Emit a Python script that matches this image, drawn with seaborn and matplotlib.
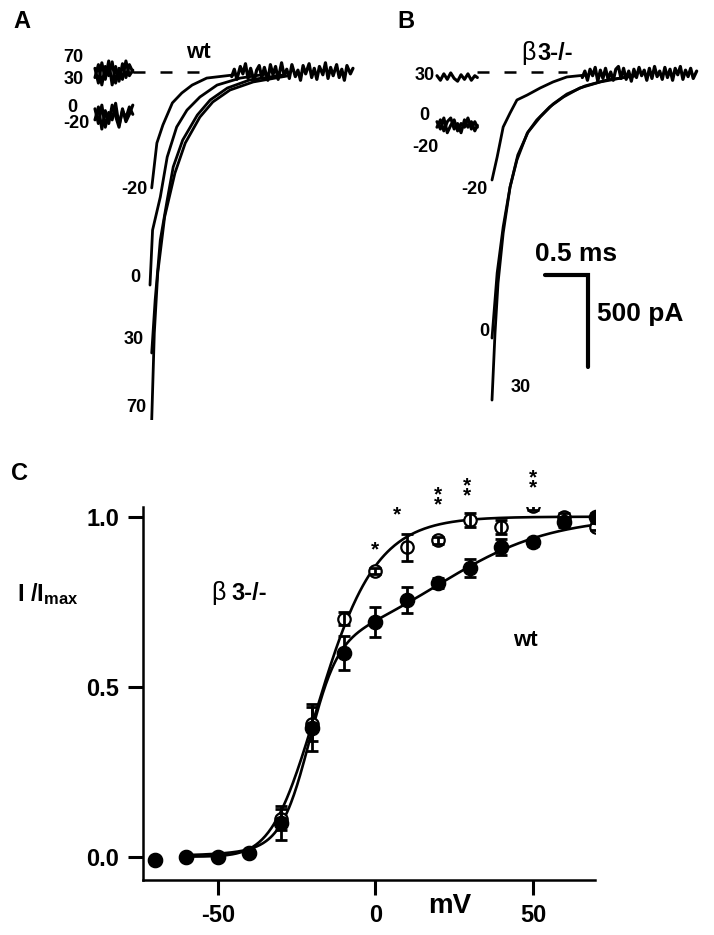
import numpy as np
import pandas as pd
import matplotlib
matplotlib.use("Agg")
import matplotlib.pyplot as plt
import seaborn as sns

# ================= DATA =================
# Panel C : normalised current vs test voltage
VOLT = [-70, -60, -50, -40, -30, -20, -10, 0, 10, 20, 30, 40, 50, 60, 70]
KO_MEAN = [-0.01, 0.00, 0.00, 0.01, 0.11, 0.39, 0.70, 0.84, 0.91, 0.93, 0.99, 0.97, 1.03, 1.00, 0.97]
KO_SEM = [0.005, 0.005, 0.005, 0.005, 0.03, 0.05, 0.02, 0.01, 0.04, 0.01, 0.02, 0.02, 0.01, 0.01, 0.01]
WT_MEAN = [-0.01, 0.00, 0.00, 0.01, 0.10, 0.38, 0.60, 0.69, 0.755, 0.805, 0.85, 0.91, 0.925, 0.985, 1.00]
WT_SEM = [0.005, 0.005, 0.005, 0.005, 0.05, 0.07, 0.05, 0.045, 0.037, 0.015, 0.026, 0.024, 0.01, 0.015, 0.01]

# fit parameters (Boltzmann^3 for beta3-/-, double Boltzmann for wt)
KO_VHALF, KO_SLOPE, KO_POWER = -30.4, 10.4, 3
WT_A1, WT_V1, WT_K1 = 0.6, -21.0, 4.5
WT_A2, WT_V2, WT_K2 = 0.4, 20.0, 18.0
FIT_RANGE = (-60, 70)

# significance stars (voltage, I/Imax of lowest star, number of stars)
STAR_V = [0, 7, 20, 29, 50]
STAR_Y = [0.923, 1.026, 1.055, 1.081, 1.105]
STAR_N = [1, 1, 2, 2, 2]

# Panels A/B : tail currents (time in ms from tail onset, current in pA)
A_M20_T = [0.02, 0.08, 0.15, 0.26, 0.37, 0.49, 0.66, 0.97]
A_M20_I = [-630, -386, -288, -168, -114, -71, -33, -16]
A_0_T = [0.00, 0.03, 0.12, 0.20, 0.31, 0.43, 0.58, 0.78, 1.05, 1.36]
A_0_I = [-1158, -859, -679, -462, -299, -207, -136, -71, -33, -11]
A_30_T = [0.02, 0.06, 0.12, 0.20, 0.27, 0.38, 0.55, 0.70, 0.90, 1.16, 1.55]
A_30_I = [-1527, -1239, -913, -696, -516, -370, -234, -152, -87, -43, -16]
A_70_T = [0.02, 0.05, 0.09, 0.17, 0.29, 0.41, 0.58, 0.73, 0.93, 1.20, 1.59]
A_70_I = [-1891, -1419, -1092, -788, -549, -386, -245, -163, -98, -54, -22]

B_M20_T = [0.00, 0.06, 0.13, 0.21, 0.29, 0.41, 0.56, 0.71, 0.87, 1.10]
B_M20_I = [-587, -462, -299, -223, -152, -125, -87, -54, -27, -16]
B_0_T = [0.00, 0.06, 0.13, 0.21, 0.29, 0.41, 0.52, 0.67, 0.83, 1.02, 1.26, 1.57]
B_0_I = [-1446, -1092, -842, -625, -478, -332, -261, -190, -136, -87, -54, -27]
B_30_T = [0.00, 0.035, 0.07, 0.13, 0.21, 0.30, 0.42, 0.56, 0.71, 0.87, 1.08, 1.34, 1.66]
B_30_I = [-1783, -1419, -1147, -875, -625, -451, -326, -245, -174, -120, -76, -43, -22]

# noisy steady baselines after the tails
BASE_A_T = [0.95, 0.98, 1.01, 1.05, 1.08, 1.11, 1.14, 1.17, 1.21, 1.24, 1.27, 1.30, 1.33, 1.37, 1.40,
            1.43, 1.46, 1.49, 1.53, 1.56, 1.59, 1.62, 1.65, 1.69, 1.72, 1.75, 1.78, 1.81, 1.85, 1.88,
            1.91, 1.94, 1.97, 2.01, 2.04, 2.07, 2.10, 2.13, 2.17, 2.20, 2.23, 2.26, 2.29, 2.33, 2.36]
BASE_A_I = [-25, 15, -40, 30, -10, 45, -35, 20, -50, 10, 35, -30, 25, -45, 40,
            -15, 30, -40, 50, -20, 15, -35, 40, -25, 10, -45, 35, -10, 45, -30,
            20, -40, 30, -15, 50, -35, 25, -20, 40, -30, 15, -45, 35, -10, 20]
BASE_B_T = [1.05, 1.08, 1.11, 1.14, 1.17, 1.20, 1.23, 1.26, 1.29, 1.32, 1.35, 1.38, 1.41, 1.44, 1.47,
            1.50, 1.53, 1.56, 1.59, 1.62, 1.65, 1.68, 1.71, 1.74, 1.77, 1.80, 1.83, 1.86, 1.89, 1.92,
            1.95, 1.98, 2.01, 2.04, 2.07, 2.10, 2.13, 2.16, 2.19, 2.22, 2.25, 2.28, 2.31, 2.34, 2.38]
BASE_B_I = [-30, 5, -45, 15, -20, 25, -50, 10, -35, 20, -40, 0, -45, 15, 30,
            -35, 20, -40, 5, -50, 15, -30, 25, -20, 10, -45, 20, -35, 30, -25,
            5, -40, 25, -30, 15, -45, 20, -15, 30, -40, 10, -25, 20, -35, 5]

# pre-pulse current snippets
SNIP_A_T = [-0.64, -0.60, -0.56, -0.52, -0.48, -0.44, -0.40, -0.36, -0.32, -0.28, -0.24, -0.20]
SNIP_A_70_I = [20, -60, 50, -40, 60, -70, 30, -50, 45, -30, 40, 0]
SNIP_A_30_I = [-30, 40, -70, 30, -20, 55, -60, 20, -40, 60, -20, 10]
SNIP_A_0_I = [-200, -280, -180, -300, -220, -260, -170, -290, -210, -250, -190, -230]
SNIP_A_M20_I = [-260, -190, -310, -210, -280, -180, -240, -300, -200, -270, -230, -180]
SNIP_B_T = [-0.64, -0.60, -0.56, -0.52, -0.48, -0.44, -0.40, -0.36, -0.32, -0.28, -0.24, -0.20, -0.17]
SNIP_B_30_I = [-20, -45, -10, -40, -5, -35, -50, -15, -40, -10, -45, -20, -30]
SNIP_B_0_I = [-300, -260, -320, -270, -250, -310, -280, -330, -260, -300, -270, -320, -290]
SNIP_B_M20_I = [-270, -310, -250, -330, -290, -260, -320, -280, -300, -250, -310, -270, -300]

SCALE_T_MS = 0.5
SCALE_I_PA = 500

# ================= STYLE =================
sns.set_theme(style="ticks")
plt.rcParams["font.family"] = ["Liberation Sans", "DejaVu Sans"]
plt.rcParams["font.weight"] = "bold"
plt.rcParams["axes.unicode_minus"] = False
plt.rcParams["mathtext.fontset"] = "custom"
plt.rcParams["mathtext.bf"] = "Liberation Sans:bold"
plt.rcParams["mathtext.rm"] = "Liberation Sans"
for key in ["text.color", "axes.labelcolor", "xtick.color", "ytick.color", "axes.edgecolor"]:
    plt.rcParams[key] = "black"

W, H = 714, 935
fig = plt.figure(figsize=(W / 100, H / 100), dpi=100)
fig.patch.set_facecolor("white")


def fx(px):
    return px / W


def fy(py):
    return 1 - py / H


def ftext(px, py, s, size, ha="center", va="center", weight="bold", **kw):
    fig.text(fx(px), fy(py), s, fontsize=size, ha=ha, va=va, fontweight=weight,
             color="black", **kw)


# ================= PANELS A / B =================
MS_PER_PX = 1 / 86
PA_PER_PX = 500 / 92
BASE_PY = 72
tr = fig.add_axes([0, fy(420), 1, 420 / H])
tr.set_xlim(0, W * MS_PER_PX)
tr.set_ylim(-(420 - BASE_PY) * PA_PER_PX, BASE_PY * PA_PER_PX)
tr.axis("off")

OFF_A = 150 * MS_PER_PX
OFF_B = 492 * MS_PER_PX


def trace(t, i, off, lw=2.0):
    df = pd.DataFrame({"t": np.asarray(t, float) + off, "i": i})
    sns.lineplot(data=df, x="t", y="i", ax=tr, color="black", lw=lw,
                 sort=False, estimator=None, legend=False)


for t, i in [(A_M20_T, A_M20_I), (A_0_T, A_0_I), (A_30_T, A_30_I), (A_70_T, A_70_I)]:
    trace(t, i, OFF_A)
trace(BASE_A_T, BASE_A_I, OFF_A, lw=2.3)
for i in [SNIP_A_70_I, SNIP_A_30_I, SNIP_A_0_I, SNIP_A_M20_I]:
    trace(SNIP_A_T, i, OFF_A, lw=2.2)

for t, i in [(B_M20_T, B_M20_I), (B_0_T, B_0_I), (B_30_T, B_30_I)]:
    trace(t, i, OFF_B)
trace(BASE_B_T, BASE_B_I, OFF_B, lw=2.3)
for i in [SNIP_B_30_I, SNIP_B_0_I, SNIP_B_M20_I]:
    trace(SNIP_B_T, i, OFF_B, lw=2.2)

# dashed zero lines
tr.plot([OFF_A - 0.20, OFF_A + 0.67], [0, 0], color="black", lw=1.8, dashes=(4.8, 6))
tr.plot([OFF_B - 0.17, OFF_B + 0.87], [0, 0], color="black", lw=1.8, dashes=(4.8, 6))

# scale bar (in panel B)
sb_t0 = OFF_B + 0.62
sb_i0 = -1105
tr.plot([sb_t0, sb_t0 + SCALE_T_MS, sb_t0 + SCALE_T_MS],
        [sb_i0, sb_i0, sb_i0 - SCALE_I_PA], color="black", lw=3.0, solid_joinstyle="miter")
ftext(576, 254, f"{SCALE_T_MS} ms", 19)
ftext(597, 314, f"{SCALE_I_PA} pA", 19, ha="left")

# labels
ftext(22, 22, "A", 17)
ftext(406, 22, "B", 17)
ftext(198, 52, "wt", 16)
ftext(536, 53, "β", 18, ha="right", weight="normal")
ftext(537, 53, "3-/-", 17, ha="left")

lab = 13
ftext(73, 58, "70", lab)
ftext(74, 79, "30", lab)
ftext(72, 107, "0", lab)
ftext(76, 123, "-20", lab)
ftext(147, 190, "-20", lab, ha="right")
ftext(140, 278, "0", lab, ha="right")
ftext(144, 340, "30", lab, ha="right")
ftext(146, 407, "70", lab, ha="right")

ftext(425, 75, "30", lab)
ftext(424, 115, "0", lab)
ftext(425, 148, "-20", lab)
ftext(487, 190, "-20", lab, ha="right")
ftext(489, 331, "0", lab, ha="right")
ftext(521, 388, "30", lab)

# ================= PANEL C =================
ax = fig.add_axes([fx(143), fy(880), (595 - 143) / W, (880 - 507) / H])
ax.set_xlim(-73.7, 69.7)
ax.set_ylim(-0.0685, 1.0285)

v_fit = np.linspace(FIT_RANGE[0], FIT_RANGE[1], 400)
ko_curve = (1 / (1 + np.exp((KO_VHALF - v_fit) / KO_SLOPE))) ** KO_POWER
wt_curve = (WT_A1 / (1 + np.exp((WT_V1 - v_fit) / WT_K1))
            + WT_A2 / (1 + np.exp((WT_V2 - v_fit) / WT_K2)))
sns.lineplot(x=v_fit, y=ko_curve, ax=ax, color="black", lw=1.9, zorder=2)
sns.lineplot(x=v_fit, y=wt_curve, ax=ax, color="black", lw=1.9, zorder=2)

ax.scatter(VOLT, KO_MEAN, s=80, facecolor="white", edgecolor="black", linewidth=1.6, zorder=3)
ax.errorbar(VOLT, KO_MEAN, yerr=KO_SEM, fmt="none", ecolor="black", elinewidth=2.0,
            capsize=4.5, capthick=2.0, zorder=4)
ax.errorbar(VOLT, WT_MEAN, yerr=WT_SEM, fmt="none", ecolor="black", elinewidth=2.0,
            capsize=4.5, capthick=2.0, zorder=4)
ax.scatter(VOLT, WT_MEAN, s=105, color="black", zorder=5)

for v, y, n in zip(STAR_V, STAR_Y, STAR_N):
    ax.annotate("\n".join(["*"] * n), xy=(v, y), xytext=(0, -8.8), textcoords="offset points",
                ha="center", va="baseline", fontsize=15, fontweight="bold",
                linespacing=0.42, annotation_clip=False, color="black")

ax.set_xticks([-50, 0, 50])
ax.set_yticks([0.0, 0.5, 1.0])
ax.set_yticklabels(["0.0", "0.5", "1.0"])
ax.tick_params(direction="out", length=11, width=2.2, labelsize=17, pad=6, colors="black")
for lbl in ax.get_xticklabels() + ax.get_yticklabels():
    lbl.set_fontweight("bold")
sns.despine(ax=ax)
for s in ["left", "bottom"]:
    ax.spines[s].set_linewidth(1.8)
    ax.spines[s].set_color("black")
ax.set_xlabel("")
ax.set_ylabel("")
ax.set_facecolor("white")

ftext(20, 474, "C", 17)
ftext(17, 594, r"$\mathbf{I\;/I_{max}}$", 17, ha="left")
ftext(450, 906, "mV", 20)
ftext(226, 593, "β", 18, ha="right", weight="normal")
ftext(231, 593, "3-/-", 17, ha="left")
ftext(525, 640, "wt", 16)

fig.savefig("out.png", dpi=100, facecolor="white")
